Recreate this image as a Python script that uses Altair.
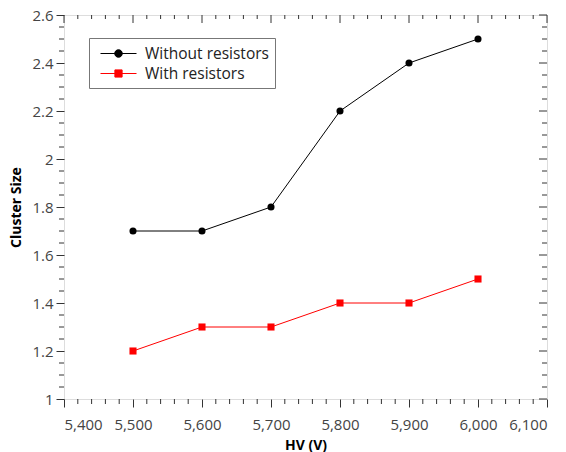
import altair as alt
import pandas as pd

# Measurements
hv = [5500, 5600, 5700, 5800, 5900, 6000]
without_res = [1.7, 1.7, 1.8, 2.2, 2.4, 2.5]
with_res = [1.2, 1.3, 1.3, 1.4, 1.4, 1.5]
series_names = ["Without resistors", "With resistors"]
series_colors = ["#000000", "#ff0000"]

# Axis ticks
x_major = [5400, 5500, 5600, 5700, 5800, 5900, 6000, 6100]
x_minor = [v + d for v in x_major[:-1] for d in (20, 40, 60, 80)]
y_major = [1.0, 1.2, 1.4, 1.6, 1.8, 2.0, 2.2, 2.4, 2.6]
y_minor = [round(v + d, 2) for v in y_major[:-1] for d in (0.05, 0.1, 0.15)]

W, H = 483, 384
FONT = "Open Sans"

df = pd.DataFrame({
    "hv": hv * 2,
    "cs": without_res + with_res,
    "series": [series_names[0]] * len(hv) + [series_names[1]] * len(hv),
})

xs = alt.Scale(domain=[5400, 6100], nice=False, zero=False)
ys = alt.Scale(domain=[1.0, 2.6], nice=False, zero=False)
cs = alt.Scale(domain=series_names, range=series_colors)

# legend glyphs: short line with the marker in the middle
legend_paths = [
    "M-2,0H2M0.42,0A0.42,0.42 0 1,1 -0.42,0A0.42,0.42 0 1,1 0.42,0Z",
    "M-2,0H2M-0.4,-0.4H0.4V0.4H-0.4Z",
]

x_axis = alt.Axis(values=x_major, format=",d", tickSize=8, tickColor="#333",
                  domain=False, grid=False, labelFont=FONT, labelFontSize=15,
                  labelColor="#444", labelPadding=10, title="HV (V)",
                  titleFont=FONT, titleFontSize=14, titleFontWeight="bold",
                  titlePadding=6, titleColor="#000")
y_axis = alt.Axis(values=y_major, format=".1~f", tickSize=8, tickColor="#333",
                  domain=False, grid=False, labelFont=FONT, labelFontSize=15,
                  labelColor="#444", labelPadding=3, title="Cluster Size",
                  titleFont=FONT, titleFontSize=14, titleFontWeight="bold",
                  titlePadding=8, titleColor="#000")

base = alt.Chart(df).encode(
    x=alt.X("hv:Q", scale=xs, axis=x_axis),
    y=alt.Y("cs:Q", scale=ys, axis=y_axis),
)

first = base.transform_filter(alt.datum.series == series_names[0])
second = base.transform_filter(alt.datum.series == series_names[1])

line_without = first.mark_line(strokeWidth=1, color=series_colors[0])
line_with = second.mark_line(strokeWidth=1, color=series_colors[1])
pts_without = first.mark_point(shape="circle", filled=True, size=50,
                               opacity=1, color=series_colors[0])
pts_with = second.mark_point(shape="square", filled=True, size=50,
                             opacity=1, color=series_colors[1])

legend_cfg = alt.Legend(
    title=None, orient="none", legendX=25, legendY=23,
    strokeColor="#777", fillColor="#fff", padding=6,
    labelFont=FONT, labelFontSize=15.5, labelColor="#222",
    labelOffset=17, symbolOffset=14, symbolSize=324, symbolStrokeWidth=1,
    symbolOpacity=1, rowPadding=2, labelLimit=300,
)

# Legend carrier: no rows reach the plot, only the legend entries are drawn
legend_layer = alt.Chart(df).transform_filter("false").mark_point(
    filled=True, opacity=1).encode(
    x=alt.X("hv:Q", scale=xs),
    y=alt.Y("cs:Q", scale=ys),
    fill=alt.Fill("series:N", scale=cs, legend=legend_cfg),
    stroke=alt.Stroke("series:N", scale=cs, legend=legend_cfg),
    shape=alt.Shape("series:N",
                    scale=alt.Scale(domain=series_names, range=legend_paths),
                    legend=legend_cfg),
)

tick_x = pd.DataFrame({"v": x_minor})
tick_x_major = pd.DataFrame({"v": x_major})
tick_y = pd.DataFrame({"v": y_minor})
tick_y_major = pd.DataFrame({"v": y_major})


def xticks(data, y0, y1):
    return alt.Chart(data).mark_rule(color="#333", strokeWidth=1).encode(
        x=alt.X("v:Q", scale=xs), y=alt.value(y0), y2=alt.value(y1))


def yticks(data, x0, x1):
    return alt.Chart(data).mark_rule(color="#333", strokeWidth=1).encode(
        y=alt.Y("v:Q", scale=ys), x=alt.value(x0), x2=alt.value(x1))


ticks = [
    xticks(tick_x, H, H + 5),          # bottom minor, outside
    xticks(tick_x, 0, 4),              # top minor, inside
    xticks(tick_x_major, 0, 8),        # top major, inside
    yticks(tick_y, 0, -5),             # left minor, outside
    yticks(tick_y, W, W - 5),          # right minor, inside
    yticks(tick_y_major, W, W - 8),    # right major, inside
]

chart = alt.layer(
    legend_layer, line_without, line_with, pts_without, pts_with, *ticks
).properties(
    width=W, height=H,
    autosize=alt.AutoSizeParams(type="none"),
    padding={"left": 64, "top": 15, "right": 19, "bottom": 53},
).configure_view(stroke="#333", strokeWidth=1).configure(background="#ffffff")

chart.save("out.html", embed_options={"renderer": "svg", "actions": False})
